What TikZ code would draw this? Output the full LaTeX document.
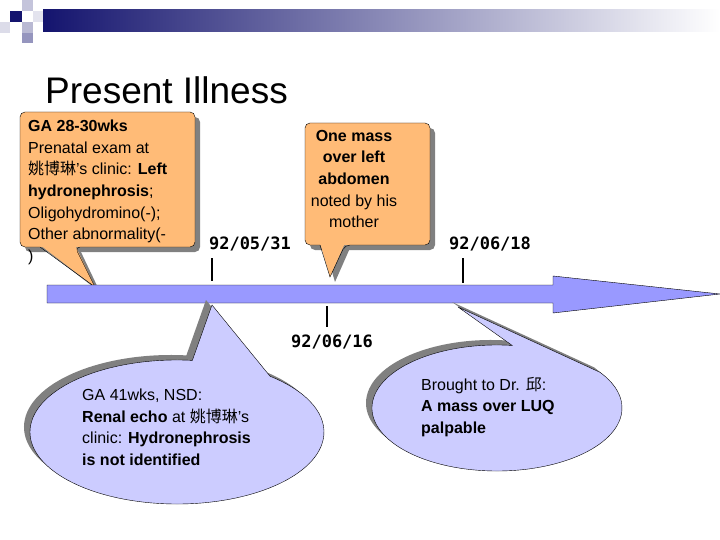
\documentclass[tikz,border=0pt]{standalone}
\usepackage{fontspec}
\setmainfont{Liberation Sans}
\newfontfamily\cjk{Noto Sans CJK TC}
\newfontfamily\datefont{DejaVu Sans Mono}
\definecolor{navy}{RGB}{20,20,110}
\definecolor{orng}{RGB}{255,187,119}
\definecolor{lav}{RGB}{204,204,255}
\definecolor{arr}{RGB}{153,153,255}
\definecolor{shd}{RGB}{128,128,128}
\tikzset{
  txt/.style={inner sep=0pt,anchor=north west,align=left,font=\fontsize{16}{21.6}\selectfont},
  datelbl/.style={inner sep=0pt,font=\datefont\bfseries\fontsize{17}{20}\selectfont},
  tick/.style={line width=2.5pt}
}
\begin{document}
\begin{tikzpicture}[x=1pt,y=-1pt]
\useasboundingbox (0,0) rectangle (720,540);
% header decoration
\shade[left color=navy,right color=white] (43,10) rectangle (720,32);
\fill[navy] (10,11) rectangle (22,22);
\fill[navy!25] (22,0) rectangle (33,11);
\fill[navy!15] (0,22) rectangle (10,33);
\fill[navy!30] (22,22) rectangle (33,33);
\fill[navy!12] (33,11) rectangle (43,22);
\fill[navy!45] (22,33) rectangle (33,43);
\node[anchor=base west,inner sep=0pt,font=\fontsize{37}{40}\selectfont] (title) at (45,104) {Present Illness};
% box 1
\fill[shd,rounded corners=5] (25,117) rectangle (200,252);
\fill[shd] (45,250) -- (100,292) -- (80,250) -- cycle;
\fill[orng,rounded corners=5] (20,112) rectangle (195,247);
\fill[orng] (40,245) -- (95,287) -- (75,245) -- cycle;
\draw[rounded corners=5] (40,247) -- (20,247) -- (20,112) -- (195,112) -- (195,247) -- (75,247) [sharp corners] -- (95,287) -- cycle;
\node[txt] (t1) at (28,120) {\textbf{GA 28-30wks}\\Prenatal exam at\\{\cjk 姚博琳}’s clinic: \textbf{Left}\\\textbf{hydronephrosis};\\Oligohydromino(-);\\Other abnormality(-\\)};
% box 2
\fill[shd,rounded corners=5] (310,128) rectangle (435,250);
\fill[shd] (325,248) -- (335,282) -- (350,248) -- cycle;
\fill[orng,rounded corners=5] (305,123) rectangle (430,245);
\fill[orng] (320,243) -- (330,277) -- (345,243) -- cycle;
\draw[rounded corners=5] (320,245) -- (305,245) -- (305,123) -- (430,123) -- (430,245) -- (345,245) [sharp corners] -- (330,277) -- cycle;
\node[txt,anchor=north,align=center] (t2) at (354,130) {\textbf{One mass}\\\textbf{over left}\\\textbf{abdomen}\\noted by his\\mother};
% timeline arrow
\draw[fill=arr] (47,285) -- (553,285) -- (553,276) -- (720,294) -- (553,313) -- (553,303) -- (47,303) -- cycle;
\coordinate (a1) at (212,281);
\coordinate (a2) at (463,283);
\coordinate (a3) at (327,306);
\node[datelbl] (d1) at (250,244) {92/05/31};
\node[datelbl] (d2) at (490,244) {92/06/18};
\node[datelbl] (d3) at (332,342) {92/06/16};
\draw[tick] (212,258) -- (a1);
\draw[tick] (463,258) -- (a2);
\draw[tick] (a3) -- (327,327);
% ellipse 1
\def\eA{(212,305) -- ({177+147*cos(84)},{432-72*sin(84)}) arc[start angle=-84,end angle=-410.7,x radius=147,y radius=72] -- cycle}
\fill[shd,shift={(-6,-5)}] \eA;
\filldraw[fill=lav] \eA;
\node[txt] (t3) at (82,389) {GA 41wks, NSD:\\\textbf{Renal echo} at {\cjk 姚博琳}’s\\clinic: \textbf{Hydronephrosis}\\\textbf{is not identified}};
% ellipse 2
\def\eB{(458,307) -- ({497+125*cos(83)},{408-63*sin(83)}) arc[start angle=-83,end angle=-394.5,x radius=125,y radius=63] -- cycle}
\fill[shd,shift={(-6,-5)}] \eB;
\filldraw[fill=lav] \eB;
\node[txt] (t4) at (421,377) {Brought to Dr. {\cjk 邱}:\\\textbf{A mass over LUQ}\\\textbf{palpable}};
\end{tikzpicture}
\end{document}
